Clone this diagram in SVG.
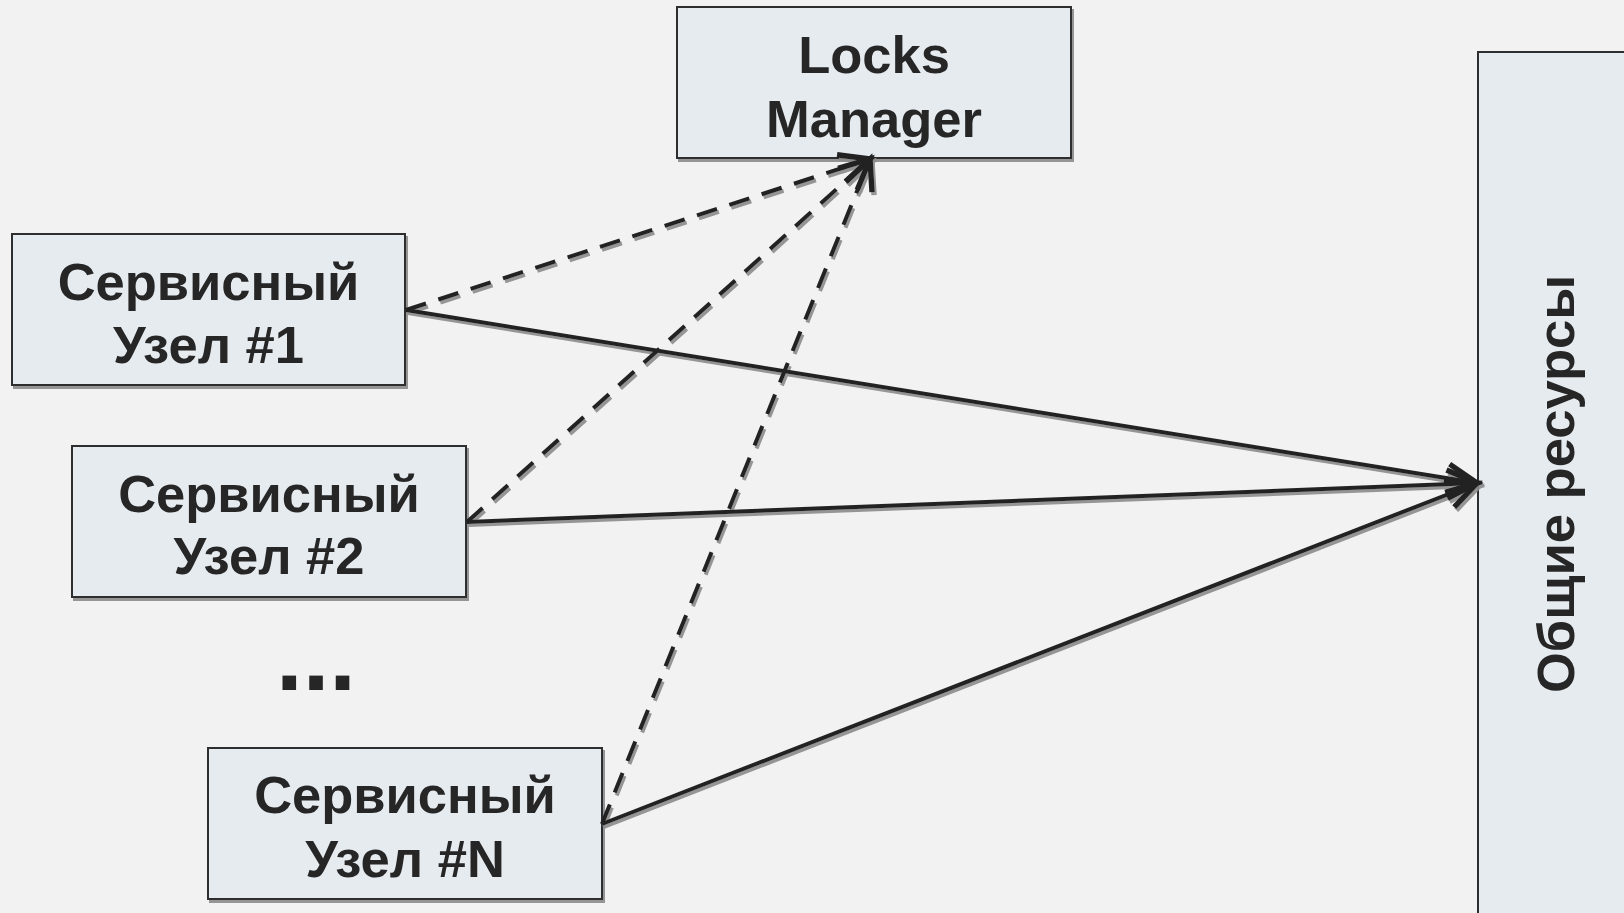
<svg xmlns="http://www.w3.org/2000/svg" width="1624" height="913" viewBox="0 0 1624 913">
<style>
.box{fill:#e6ebf0;stroke:#2e2e2e;stroke-width:2}
.lbl{font-family:"Liberation Sans",Arial,sans-serif;font-weight:bold;font-size:52.5px;fill:#262626;text-anchor:middle}
.solid{fill:none;stroke:#222;stroke-width:4;marker-end:url(#arr)}
.dash{fill:none;stroke:#222;stroke-width:4;stroke-dasharray:21 13;marker-end:url(#arr)}
</style>
<defs>
<filter id="sh" x="-5%" y="-5%" width="115%" height="120%">
<feDropShadow dx="2" dy="3" stdDeviation="0.6" flood-color="#8a8a8a" flood-opacity="0.9"/>
</filter>
<marker id="arr" markerUnits="userSpaceOnUse" markerWidth="40" markerHeight="40" viewBox="-24 -14 28 28" refX="0" refY="0" orient="auto" overflow="visible">
<path d="M-21,-10 L0,0 L-21,10" fill="none" stroke="#222" stroke-width="3.8" stroke-linejoin="miter"/>
</marker>
</defs>
<rect width="1624" height="913" fill="#f2f2f2"/>

<g id="shared-resources">
<rect class="box" x="1478" y="52" width="170" height="880" filter="url(#sh)"/>
<text class="lbl" transform="translate(1574,484) rotate(-90)">Общие ресурсы</text>
</g>

<g id="locks-manager">
<rect class="box" x="677" y="7" width="394" height="151" filter="url(#sh)"/>
<text class="lbl" x="874" y="73">Locks</text>
<text class="lbl" x="874" y="137">Manager</text>
</g>

<g id="node1">
<rect class="box" x="12" y="234" width="393" height="151" filter="url(#sh)"/>
<text class="lbl" x="208.5" y="300">Сервисный</text>
<text class="lbl" x="208.5" y="363">Узел #1</text>
</g>

<g id="node2">
<rect class="box" x="72" y="446" width="394" height="151" filter="url(#sh)"/>
<text class="lbl" x="269" y="512">Сервисный</text>
<text class="lbl" x="269" y="574">Узел #2</text>
</g>

<g id="ellipsis">
<text x="316" y="690" style="font-family:'Liberation Sans',Arial,sans-serif;font-weight:bold;font-size:96px;fill:#262626;text-anchor:middle">...</text>
</g>

<g id="nodeN">
<rect class="box" x="208" y="748" width="394" height="151" filter="url(#sh)"/>
<text class="lbl" x="405" y="813">Сервисный</text>
<text class="lbl" x="405" y="877">Узел #N</text>
</g>

<g id="connectors" filter="url(#sh)">
<line class="solid" x1="406" y1="310" x2="1477" y2="483"/>
<line class="solid" x1="467" y1="522" x2="1477" y2="483"/>
<line class="solid" x1="602" y1="824" x2="1477" y2="483"/>
<line class="dash" x1="406" y1="310" x2="870" y2="159"/>
<line class="dash" x1="467" y1="522" x2="870" y2="159"/>
<line class="dash" x1="602" y1="824" x2="870" y2="159"/>
</g>
</svg>
